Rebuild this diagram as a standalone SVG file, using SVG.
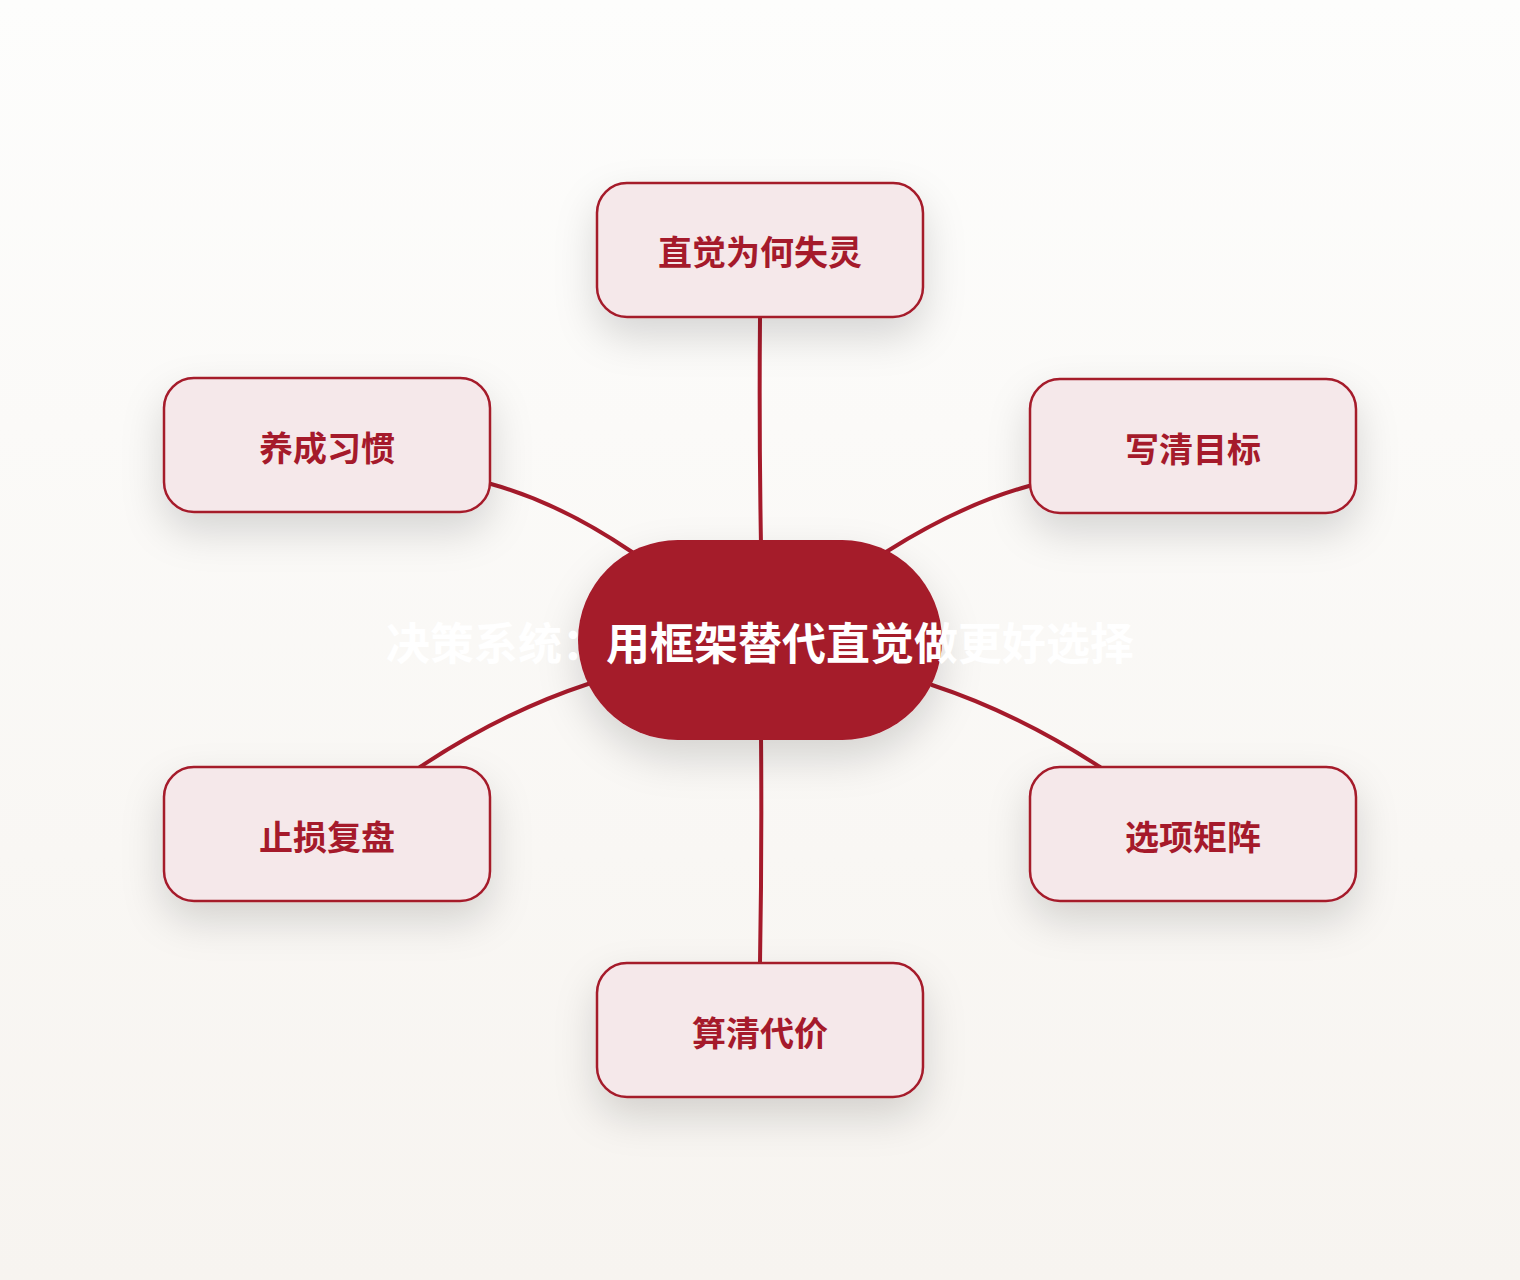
<svg xmlns="http://www.w3.org/2000/svg" width="1520" height="1280" viewBox="0 0 1520 1280">
<defs>
<linearGradient id="bg" x1="0" y1="0" x2="0" y2="1">
<stop offset="0" stop-color="#fdfdfc"/>
<stop offset="1" stop-color="#f7f4f0"/>
</linearGradient>
<filter id="sh" x="-40%" y="-40%" width="180%" height="200%">
<feDropShadow dx="0" dy="18" stdDeviation="20" flood-color="#000" flood-opacity="0.15"/>
</filter>
<style>
.conn{fill:none;stroke:#a51a2b;stroke-width:4;stroke-linecap:round}
.box{fill:#f5e8ea;stroke:#a51a2b;stroke-width:2.5}
.lbl{font-family:"Noto Sans CJK SC","Noto Sans",sans-serif;font-weight:700;font-size:34px;fill:#a51a2b;text-anchor:middle}
.ctr{fill:#a51a2b}
.ctxt{font-family:"Noto Sans CJK SC","Noto Sans",sans-serif;font-weight:700;font-size:44px;fill:#ffffff;text-anchor:middle}
</style>
</defs>
<rect width="1520" height="1280" fill="url(#bg)"/>
<g id="connectors">
<path class="conn" d="M760,318 Q759,430 761,545"/>
<path class="conn" d="M761,735 Q762,850 760,963"/>
<path class="conn" d="M491,484 Q560,503 632,552"/>
<path class="conn" d="M1029,486 Q960,505 886,552"/>
<path class="conn" d="M588,684 Q503,712 420,767"/>
<path class="conn" d="M932,685 Q1017,713 1100,767"/>
</g>
<g id="n-top">
<rect class="box" x="597" y="183" width="326" height="134" rx="30" filter="url(#sh)"/>
<text class="lbl" x="760" y="265">直觉为何失灵</text>
</g>
<g id="n-lu">
<rect class="box" x="164" y="378" width="326" height="134" rx="30" filter="url(#sh)"/>
<text class="lbl" x="327" y="461">养成习惯</text>
</g>
<g id="n-ru">
<rect class="box" x="1030" y="379" width="326" height="134" rx="30" filter="url(#sh)"/>
<text class="lbl" x="1193" y="462">写清目标</text>
</g>
<g id="n-ll">
<rect class="box" x="164" y="767" width="326" height="134" rx="30" filter="url(#sh)"/>
<text class="lbl" x="327" y="850">止损复盘</text>
</g>
<g id="n-rl">
<rect class="box" x="1030" y="767" width="326" height="134" rx="30" filter="url(#sh)"/>
<text class="lbl" x="1193" y="850">选项矩阵</text>
</g>
<g id="n-bottom">
<rect class="box" x="597" y="963" width="326" height="134" rx="30" filter="url(#sh)"/>
<text class="lbl" x="760" y="1046">算清代价</text>
</g>
<g id="n-center">
<rect class="ctr" x="578" y="540" width="364" height="200" rx="100" filter="url(#sh)"/>
<text class="ctxt" x="760" y="660">决策系统：用框架替代直觉做更好选择</text>
</g>
</svg>
